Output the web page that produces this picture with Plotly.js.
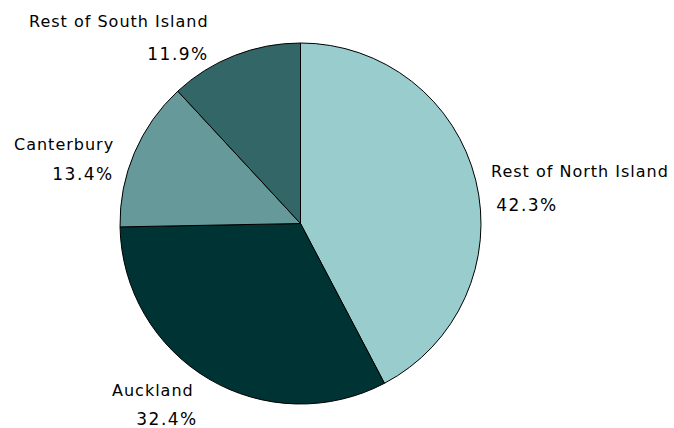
<!DOCTYPE html>
<html>
<head>
<meta charset="utf-8">
<script src="https://cdn.plot.ly/plotly-3.0.1.min.js"></script>
<style>html,body{margin:0;padding:0;background:#fff;}#chart{width:674px;height:428px;}</style>
</head>
<body>
<div id="chart"></div>
<script>
// Data
var regions = ["Rest of North Island", "Auckland", "Canterbury", "Rest of South Island"];
var shares = [42.3, 32.4, 13.4, 11.9];
var sliceColors = ["#99CCCC", "#003333", "#669999", "#336666"];

var W = 674, H = 428;
var NAME_LS = 1, PCT_LS = 1.5;
// label placement (pixels): name anchor and percent anchor
var labelLayout = [
  {side: "left",  nx: 489, ny: 172, px: 494, py: 205},
  {side: "right", nx: 196, ny: 390, px: 200, py: 419},
  {side: "right", nx: 116, ny: 145, px: 116, py: 174},
  {side: "right", nx: 211, ny: 22,  px: 211, py: 54}
];

var nameFont = {family: "DejaVu Sans, Verdana, sans-serif", size: 16, color: "#000000"};
var pctFont = {family: "DejaVu Sans, Verdana, sans-serif", size: 17, color: "#000000"};
var annotations = [];
function comp(side, txt, ls){ var d = txt.length * ls / 2; return side === "left" ? d : -d; }
regions.forEach(function(name, i){
  var L = labelLayout[i];
  var pct = shares[i].toFixed(1) + "%";
  annotations.push({text: name, xref: "paper", yref: "paper", x: (L.nx + comp(L.side, name, NAME_LS)) / W, y: 1 - L.ny / H,
    xanchor: L.side, yanchor: "middle", showarrow: false, font: nameFont});
  annotations.push({text: pct, xref: "paper", yref: "paper", x: (L.px + comp(L.side, pct, PCT_LS)) / W, y: 1 - L.py / H,
    xanchor: L.side, yanchor: "middle", showarrow: false, font: pctFont});
});

var trace = {
  type: "pie",
  labels: regions,
  values: shares,
  marker: {colors: sliceColors, line: {color: "#000000", width: 1}},
  sort: false,
  direction: "clockwise",
  rotation: 0,
  textinfo: "none",
  hoverinfo: "label+percent",
  domain: {x: [120 / W, 481 / W], y: [1 - 404 / H, 1 - 43 / H]}
};

var layout = {
  width: W, height: H,
  margin: {l: 0, r: 0, t: 0, b: 0},
  paper_bgcolor: "#ffffff",
  showlegend: false,
  annotations: annotations
};

Plotly.newPlot("chart", [trace], layout, {displayModeBar: false, staticPlot: true}).then(function(gd){
  gd.querySelectorAll(".annotation-text").forEach(function(t){
    var isPct = t.textContent.indexOf("%") >= 0;
    t.style.letterSpacing = (isPct ? PCT_LS : NAME_LS) + "px";
  });
});
</script>
</body>
</html>
